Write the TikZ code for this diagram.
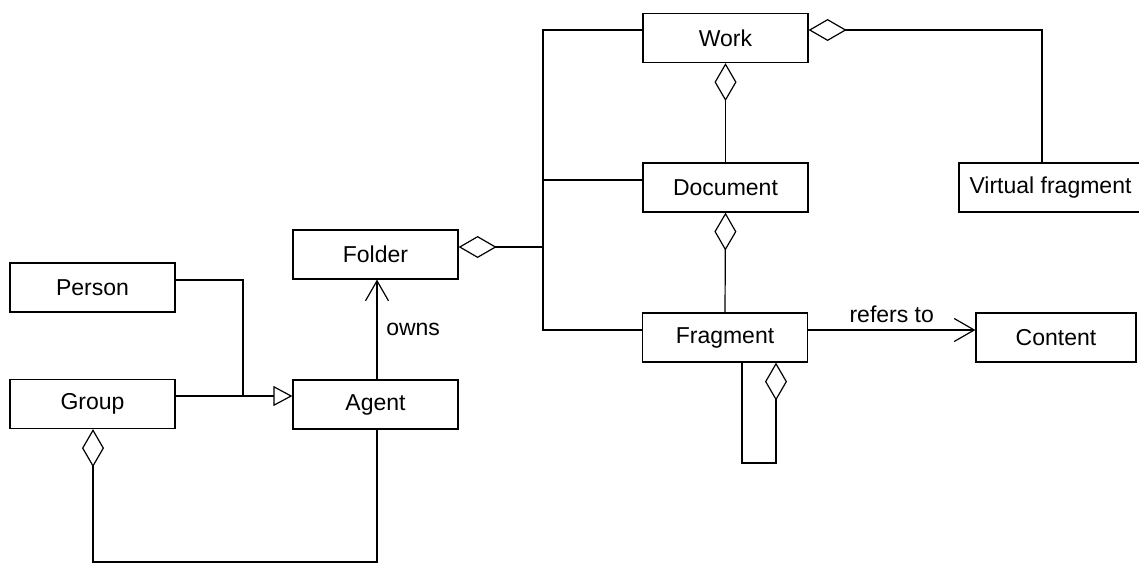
\documentclass[tikz,border=0pt]{standalone}
\usepackage{fontspec}
\setmainfont{Liberation Sans}
\usetikzlibrary{arrows.meta}

\begin{document}
\begin{tikzpicture}[x=0.5pt, y=-0.5pt, line width=0.6pt, font=\fontsize{11.5}{14}\selectfont, class/.style = {shape=rectangle, draw, align=center, fill=white, inner sep=0pt, minimum height=24.5pt, minimum width=82.5pt}, aggr/.style = {-{Diamond[open, length=19pt, width=11pt]}}, gen/.style = {-{Triangle[open, length=9.5pt, width=10pt]}}, assoc/.style = {-{Straight Barb[length=10pt, width=11.5pt]}}]
	\useasboundingbox (0,0) rectangle (1139,563);
	% classes
	\node[class] (work) at (725.5,38) {Work};
	\node[class] (document) at (725.5,187.5) {Document};
	\node[class, minimum width=91.5pt] (virtual) at (1050.5,187.5) {Virtual fragment};
	\node[class] (folder) at (375.5,254.5) {Folder};
	\node[class] (person) at (92.5,287.5) {Person};
	\node[class] (fragment) at (725,337.5) {Fragment};
	\node[class, minimum width=80pt] (content) at (1056,337.5) {Content};
	\node[class] (group) at (92.5,404) {Group};
	\node[class] (agent) at (375.5,404.5) {Agent};
	% junctions
	\coordinate (busTop) at (543,30);
	\coordinate (busBot) at (543,330);
	\coordinate (join) at (243,396);
	% folder contents
	\draw (work.west |- busTop) -- (busTop) -- (busBot) -- (fragment.west |- busBot);
	\draw (document.west |- 0,180) -- (543,180);
	\draw[aggr] (543,247) -- (folder.east |- 0,247);
	\draw[aggr] (document.north) -- (work.south);
	\draw[aggr] (fragment.north) -- (document.south);
	\draw[aggr] (virtual.north -| 1042,0) |- (work.east |- 0,30);
	\draw[aggr] (fragment.south -| 742,0) |- (776,463) -- (fragment.south -| 776,0);
	\draw[assoc] (fragment.east |- 0,330) -- (content.west |- 0,330) node[midway, above] {refers to};
	% agents
	\draw[assoc] (agent.north -| 377,0) -- (folder.south -| 377,0) node[midway, right, xshift=1pt] {owns};
	\draw (person.east |- 0,280) -| (join);
	\draw[gen] (group.east |- join) -- (agent.west |- join);
	\draw[aggr] (agent.south -| 377,0) |- (93,562) -- (group.south -| 93,0);
\end{tikzpicture}
\end{document}
